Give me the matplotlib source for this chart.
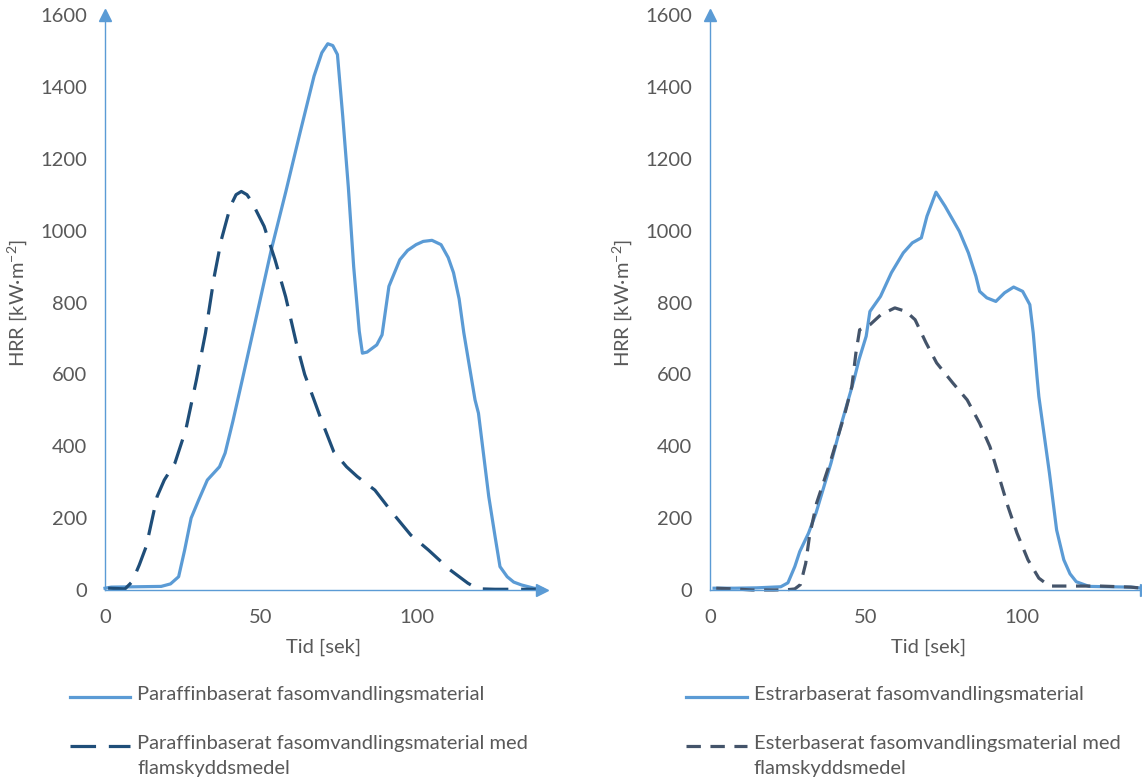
import matplotlib
matplotlib.use("Agg")
import matplotlib.pyplot as plt
from matplotlib.lines import Line2D

plt.rcParams['font.family'] = ['Lato', 'DejaVu Sans']
plt.rcParams['mathtext.fontset'] = 'custom'
plt.rcParams['mathtext.rm'] = 'Lato'
plt.rcParams['mathtext.default'] = 'regular'

# paraffin based PCM
par_t = [0, 2, 10, 18, 21, 23.6, 25.5, 27.6, 30, 32.8, 36.7, 38.5, 41, 44, 48, 53.3, 58,
         62.5, 67, 69.5, 71.4, 73, 74.5, 76.2, 78, 79.7, 81.5, 82.5, 84, 87.1, 88.8, 91,
         94.5, 97, 99.7, 102, 104.8, 107.7, 110, 111.7, 113.5, 115, 118.6, 119.7, 123,
         125, 126.6, 128.9, 131, 133.5, 137.5, 140]
par_v = [5, 8, 9, 10, 17, 37, 110, 200, 250, 306, 343, 381, 470, 585, 740, 947, 1110,
         1272, 1430, 1495, 1520, 1515, 1490, 1318, 1120, 900, 720, 659, 662, 682, 710, 845,
         919, 945, 961, 970, 973, 961, 925, 883, 810, 716, 529, 492, 260, 150, 65, 37, 22,
         14, 5, 3]

# paraffin based PCM with flame retardant
par_fr_t = [1, 4, 6.4, 8.7, 11, 13.2, 16.7, 19, 22.4, 25.9, 29.3, 32.2, 35, 37.3, 40.2,
            42, 43.7, 45.5, 47, 51, 54.5, 57.9, 61.3, 64, 67, 69.3, 73.3, 77.4, 80.8,
            86.5, 92.2, 98, 103.7, 110.6, 116.3, 118.5, 120.9, 125, 130, 135, 140]
par_fr_v = [5, 4, 3, 23, 70, 121, 260, 306, 353, 446, 585, 715, 872, 975, 1068, 1100,
            1109, 1100, 1081, 1012, 919, 816, 688, 600, 529, 474, 385, 343, 316, 278, 214,
            153, 111, 56, 19, 8, 3, 2, 2, 2, 2]

# ester based PCM
est_t = [1.3, 8, 15, 22.7, 25, 27.2, 28.8, 31.6, 34, 38.8, 42.2, 46.2, 47.8, 50.1, 51.3,
         54.7, 58.2, 62, 64.9, 67.8, 69.6, 72.5, 75.4, 80, 82.9, 85.3, 86.5, 88.8, 91.7,
         94.5, 97.4, 100.3, 102.6, 103.7, 104.9, 105.5, 108.9, 111.2, 113.5, 115.5,
         117.5, 121.6, 128, 135, 140]
est_v = [5, 5, 6, 9, 20, 65, 107, 158, 214, 353, 464, 585, 641, 706, 775, 817, 883, 938,
         966, 980, 1040, 1107, 1068, 998, 938, 873, 831, 813, 803, 827, 843, 831, 794, 715,
         594, 538, 325, 167, 84, 45, 23, 10, 9, 8, 4]

# ester based PCM with flame retardant
est_fr_t = [2, 8, 13.5, 20.5, 25, 27.2, 29, 30.7, 31.9, 34.2, 38.8, 43.3, 45.5, 46.8, 48,
            51.3, 54.8, 59.3, 62.9, 65.8, 69.3, 72.7, 77.9, 82.5, 86.5, 89.8, 92.7, 95.6,
            98.5, 102, 105.5, 108.9, 115, 125, 135, 140]
est_fr_v = [5, 3, 0, 0, 1, 3, 15, 74, 149, 242, 362, 492, 566, 659, 724, 738, 766, 785,
            775, 752, 688, 632, 576, 529, 464, 399, 316, 232, 158, 84, 33, 11, 11, 11, 8, 4]

ylab = 'HRR [kW·m$^{-2}$]'
xlab = 'Tid [sek]'
leg_left = ['Paraffinbaserat fasomvandlingsmaterial',
            'Paraffinbaserat fasomvandlingsmaterial med\nflamskyddsmedel']
leg_right = ['Estrarbaserat fasomvandlingsmaterial',
             'Esterbaserat fasomvandlingsmaterial med\nflamskyddsmedel']

light = '#5B9BD5'
navy = '#1F4E79'
slate = '#44546A'
txt = '#595959'
fs = 14.5

W, H = 1142, 782
fig = plt.figure(figsize=(W / 100, H / 100), dpi=100)
ax1 = fig.add_axes([105 / W, (H - 590) / H, 436.8 / W, 575 / H])
ax2 = fig.add_axes([710 / W, (H - 590) / H, 436.4 / W, 575 / H])


def style(ax):
    ax.set_xlim(0, 140)
    ax.set_ylim(0, 1600)
    ax.set_xticks([0, 50, 100])
    ax.set_yticks(range(0, 1601, 200))
    for s in ['top', 'right']:
        ax.spines[s].set_visible(False)
    for s in ['left', 'bottom']:
        ax.spines[s].set_color(light)
        ax.spines[s].set_linewidth(1.0)
    ax.tick_params(length=0, labelsize=fs, labelcolor=txt)
    ax.tick_params(axis='y', pad=13)
    ax.tick_params(axis='x', pad=14)
    ax.plot([0], [1600], marker='^', ms=9, color=light, clip_on=False, zorder=5)
    ax.plot([140], [0], marker='>', ms=9, color=light, clip_on=False, zorder=5)
    ax.set_xlabel(xlab, fontsize=fs, color=txt, labelpad=9)
    ax.set_ylabel(ylab, fontsize=fs, color=txt, labelpad=8)


style(ax1)
style(ax2)

ax1.plot(par_t, par_v, color=light, lw=2.3, solid_joinstyle='round', clip_on=False)
ax1.plot(par_fr_t, par_fr_v, color=navy, lw=2.3, dashes=(8, 4), clip_on=False)
ax2.plot(est_t, est_v, color=light, lw=2.3, solid_joinstyle='round', clip_on=False)
ax2.plot(est_fr_t, est_fr_v, color=slate, lw=2.3, dashes=(4.5, 3), clip_on=False)


def legend(x0, x1, xt, labels, styles):
    for y, lab, (c, d) in zip([697, 746], labels, styles):
        ln = Line2D([x0 / W, x1 / W], [1 - y / H, 1 - y / H], color=c, lw=2.3,
                    transform=fig.transFigure)
        if d:
            ln.set_dashes(d)
        fig.add_artist(ln)
        fig.text(xt / W, 1 - (y - 11) / H, lab, fontsize=fs, color=txt, va='top',
                 ha='left', linespacing=1.6)


legend(70, 130, 137, leg_left, [(light, None), (navy, (8, 4))])
legend(686, 747, 754, leg_right, [(light, None), (slate, (4.5, 3))])

fig.savefig('out.png', dpi=100, facecolor='white')
